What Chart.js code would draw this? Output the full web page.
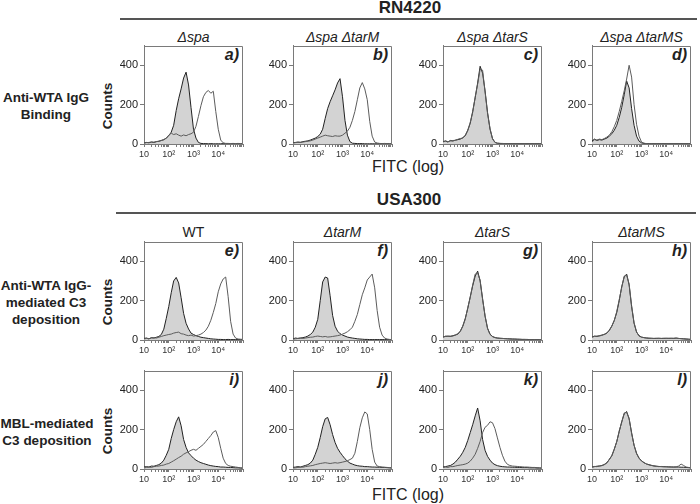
<!DOCTYPE html>
<html><head><meta charset="utf-8">
<script src="https://cdn.jsdelivr.net/npm/chart.js@4/dist/chart.umd.min.js"></script>
<style>
html,body{margin:0;padding:0;}
body{width:700px;height:504px;background:#fff;position:relative;overflow:hidden;font-family:"Liberation Sans",Arial,sans-serif;color:#222;}
.t{position:absolute;white-space:nowrap;transform:translate(-50%,-50%);text-align:center;}
.hd{font-weight:bold;font-size:17px;}
.ct{font-style:italic;font-size:14px;}
.rl{font-weight:bold;font-size:13.5px;line-height:17px;}
.ax{font-size:16px;}
.cn{font-weight:bold;font-size:13.5px;transform:translate(-50%,-50%) rotate(-90deg);}
.lt{position:absolute;font-weight:bold;font-style:italic;font-size:16px;transform:translate(-100%,-50%);}
.hr{position:absolute;height:2px;background:#555;}
canvas{position:absolute;}
</style></head><body>
<div class="t hd" style="left:410px;top:8px">RN4220</div>
<div class="hr" style="left:120px;top:18px;width:577px"></div>
<div class="t hd" style="left:409px;top:200px">USA300</div>
<div class="hr" style="left:116px;top:212px;width:580px"></div>
<div class="t ax" style="left:408px;top:167px">FITC (log)</div>
<div class="t ax" style="left:408px;top:495px">FITC (log)</div>
<div class="t rl" style="left:46px;top:106px">Anti-WTA IgG<br>Binding</div>
<div class="t rl" style="left:46px;top:302px">Anti-WTA IgG-<br>mediated C3<br>deposition</div>
<div class="t rl" style="left:47px;top:432px">MBL-mediated<br>C3 deposition</div>
<div id="texts"></div>
<script>
// ---- data: FITC channel values (log axis) ----
const fitcChannels = [10,12.6,15.8,20,25.1,31.6,39.8,50.1,63.1,79.4,
  100,126,158,200,251,316,398,501,631,794,
  1000,1260,1580,2000,2510,3160,3980,5010,6310,7940,
  10000,12600,15800,20000,25100,31600,39800,50100,63100,79400,100000];
const xTickValues = [10,20,30,40,50,60,70,80,90,100,200,300,400,500,600,700,800,900,
  1000,2000,3000,4000,5000,6000,7000,8000,9000,10000,20000,30000,40000,50000,60000,70000,80000,90000,100000];
const xTickLabels = {10:'10',100:'10²',1000:'10³',10000:'10⁴'};
const yTickValues = [0,200,400];

const rowTitles1 = ['Δspa','Δspa ΔtarM','Δspa ΔtarS','Δspa ΔtarMS'];
const rowTitles2 = ['WT','ΔtarM','ΔtarS','ΔtarMS'];
const panelLetters = ['a)','b)','c)','d)','e)','f)','g)','h)','i)','j)','k)','l)'];

// counts, shaded (control) and open histograms
const aShaded = [5,8,6,10,8,12,14,18,22,30, 42,60,95,170,230,280,335,365,300,185, 75,30,8,3,2,2,1,2,1,1, 1,1,2,1,1,1,1,1,1,1,1];
const aOpen   = [5,7,8,10,9,12,14,18,22,30, 45,55,48,52,45,40,46,42,48,52, 60,90,140,195,240,262,272,258,268,165, 75,20,6,3,3,2,3,2,3,2,2];
const bShaded = [6,8,10,8,12,14,16,20,25,30, 38,50,75,130,180,215,245,275,310,332, 240,120,45,12,4,3,2,2,2,1, 1,1,1,1,1,1,1,1,1,1,1];
const bOpen   = [5,7,8,9,10,12,14,16,20,25, 30,35,40,45,42,40,38,42,40,40, 45,55,65,85,120,165,225,285,312,280, 225,115,40,10,5,3,2,3,2,2,2];
const cShaded = [12,15,10,18,15,20,22,25,32,42, 70,105,165,235,310,395,360,270,160,75, 28,8,4,3,2,2,2,2,2,2, 2,2,2,2,2,2,2,2,2,2,2];
const cOpen   = [10,16,12,15,18,18,24,28,30,45, 68,110,160,240,305,380,375,265,155,80, 25,9,4,3,3,2,2,2,2,2, 2,2,2,2,2,2,2,2,2,2,2];
const dShaded = [15,25,18,22,20,25,30,40,52,70, 95,135,185,250,320,285,180,95,40,15, 6,3,2,2,2,2,2,2,2,2, 2,2,2,2,2,2,2,2,2,2,2];
const dOpen   = [10,22,20,25,22,28,35,45,62,88, 120,165,215,270,330,400,340,200,100,40, 10,4,2,2,2,2,2,2,2,2, 2,2,2,2,2,2,2,2,2,2,2];
const eShaded = [8,10,6,12,10,14,18,28,55,110, 170,240,300,318,290,215,135,85,56,35, 28,22,18,14,12,10,8,6,5,4, 3,3,2,2,3,2,2,2,2,2,2];
const eOpen   = [5,8,6,10,12,10,14,18,22,25, 28,30,35,38,40,32,30,25,22,25, 20,22,25,30,38,50,70,100,140,185, 245,285,310,320,220,95,30,10,5,4,3];
const fShaded = [6,10,8,10,12,15,20,28,40,65, 105,200,295,320,315,225,125,70,45,32, 25,20,15,12,10,8,6,5,4,3, 3,2,2,2,2,2,2,2,2,2,2];
const fOpen   = [4,6,8,10,8,10,12,14,15,18, 20,18,16,18,15,16,18,20,22,25, 30,35,42,52,65,95,130,180,230,265, 305,320,335,265,150,65,25,10,5,3,2];
const gShaded = [15,18,20,18,22,25,30,45,70,110, 160,220,275,325,350,300,210,120,60,30, 18,12,10,9,8,7,6,6,5,5, 4,4,3,3,3,2,2,2,2,2,2];
const gOpen   = [14,20,18,20,20,26,32,44,72,105, 165,215,280,335,340,305,205,125,58,28, 17,13,10,8,8,7,7,5,5,4, 4,3,3,3,2,2,2,2,2,2,2];
const hShaded = [15,20,18,22,25,28,35,50,70,100, 140,200,270,320,335,280,170,85,40,22, 15,12,10,9,9,8,8,9,8,8, 9,8,9,8,10,8,7,6,5,4,3];
const hOpen   = [14,18,20,20,24,30,36,48,72,98, 145,205,265,325,330,285,175,88,42,20, 14,12,11,9,8,8,9,8,8,9, 8,9,8,9,9,8,7,6,5,4,3];
const iShaded = [10,12,10,15,14,18,22,30,45,70, 100,155,200,240,265,220,150,110,82,68, 55,45,38,32,28,24,20,17,15,13, 12,10,10,9,8,8,7,6,6,5,4];
const iOpen   = [5,8,10,8,12,14,15,18,20,25, 28,35,42,50,58,65,75,82,88,95, 100,95,105,115,125,140,155,170,188,195, 160,105,55,28,18,14,12,10,8,6,5];
const jShaded = [8,10,12,10,14,18,22,30,45,75, 110,160,215,255,262,225,175,135,105,85, 68,52,40,30,25,20,17,15,14,12, 12,11,10,10,9,9,8,8,7,6,5];
const jOpen   = [5,6,8,10,9,12,14,16,18,22, 25,28,30,32,30,28,30,32,30,32, 35,38,42,48,55,80,140,210,260,290, 280,200,100,35,15,12,10,9,8,7,6];
const kShaded = [10,12,15,18,25,35,50,65,85,110, 145,185,225,270,310,245,150,95,64,45, 30,22,17,14,12,11,10,10,9,9, 8,8,7,7,7,6,6,6,5,5,4];
const kOpen   = [8,10,8,12,12,15,18,20,22,25, 30,40,55,75,105,140,185,212,222,240, 235,205,158,110,70,40,24,18,15,14, 13,12,11,10,10,9,8,8,7,6,5];
const lShaded = [10,12,14,15,18,22,32,48,68,100, 140,190,240,280,292,255,185,120,80,55, 42,32,26,22,18,16,14,13,12,12, 11,11,10,10,10,10,9,9,8,7,6];
const lOpen   = [9,13,12,16,17,24,30,50,66,102, 138,195,235,285,288,258,180,122,78,56, 40,33,25,21,19,15,14,12,13,11, 12,10,11,10,11,15,25,18,10,8,6];

const panels = [
  [aShaded,aOpen],[bShaded,bOpen],[cShaded,cOpen],[dShaded,dOpen],
  [eShaded,eOpen],[fShaded,fOpen],[gShaded,gOpen],[hShaded,hOpen],
  [iShaded,iOpen],[jShaded,jOpen],[kShaded,kOpen],[lShaded,lOpen]
];

// ---- layout ----
const colX = [144, 293, 443, 592];
const rowY = [45, 241, 370];
const PW = 99, PH = 99;
const PADL = 36, PADT = 8, PADR = 4, PADB = 22;

Chart.defaults.font.family = '"Liberation Sans", Arial, sans-serif';
Chart.defaults.color = '#222';

const framePlugin = {
  id: 'frame',
  afterDatasetsDraw(chart) {
    const {ctx, chartArea: a} = chart;
    ctx.save();
    ctx.strokeStyle = '#7a7a7a';
    ctx.lineWidth = 1;
    ctx.beginPath();
    ctx.moveTo(Math.round(a.left) + 0.5, Math.round(a.top) + 0.5);
    ctx.lineTo(Math.round(a.right) - 0.5, Math.round(a.top) + 0.5);
    ctx.lineTo(Math.round(a.right) - 0.5, Math.round(a.bottom));
    ctx.stroke();
    ctx.restore();
  }
};

const texts = document.getElementById('texts');
function addText(cls, x, y, s) {
  const d = document.createElement('div');
  d.className = cls;
  d.style.left = x + 'px';
  d.style.top = y + 'px';
  d.textContent = s;
  texts.appendChild(d);
}

rowTitles1.forEach((s, c) => addText('t ct', colX[c] + PW / 2, 37, s));
rowTitles2.forEach((s, c) => addText(c === 0 ? 't ct wt' : 't ct', colX[c] + PW / 2, 232, s));
rowY.forEach((y, r) => addText('t cn', 107, y + PH / 2 + 11, 'Counts'));

panels.forEach(([shaded, open], k) => {
  const r = Math.floor(k / 4), c = k % 4;
  const cv = document.createElement('canvas');
  cv.width = PADL + PW + PADR;
  cv.height = PADT + PH + PADB;
  cv.style.left = (colX[c] - PADL) + 'px';
  cv.style.top = (rowY[r] - PADT) + 'px';
  document.body.appendChild(cv);
  addText('lt', colX[c] + PW - 4, rowY[r] + 10, panelLetters[k]);

  new Chart(cv, {
    type: 'line',
    data: {
      datasets: [
        { data: fitcChannels.map((x, i) => ({x, y: open[i]})), borderColor: '#5c5c5c', borderWidth: 1,
          fill: false, pointRadius: 0, tension: 0, order: 0 },
        { data: fitcChannels.map((x, i) => ({x, y: shaded[i]})), borderColor: '#222', borderWidth: 1,
          backgroundColor: '#d3d3d3', fill: 'origin', pointRadius: 0, tension: 0, order: 1 }
      ]
    },
    options: {
      responsive: false, animation: false, devicePixelRatio: 1,
      layout: { padding: { left: 0, top: PADT, right: PADR, bottom: 0 } },
      plugins: { legend: { display: false }, tooltip: { enabled: false } },
      scales: {
        x: {
          type: 'logarithmic', min: 10, max: 100000,
          afterBuildTicks: s => { s.ticks = xTickValues.map(v => ({value: v})); },
          afterFit: s => { s.height = PADB; },
          grid: { drawOnChartArea: false, drawTicks: true, tickLength: 3, color: '#7a7a7a' },
          border: { color: '#7a7a7a', width: 1 },
          ticks: { autoSkip: false, maxRotation: 0, minRotation: 0, padding: 2, color: '#333',
                   font: { size: 9 }, callback: v => xTickLabels[v] ?? '' }
        },
        y: {
          min: 0, max: 500,
          afterBuildTicks: s => { s.ticks = yTickValues.map(v => ({value: v})); },
          afterFit: s => { s.width = PADL; },
          grid: { drawOnChartArea: false, tickLength: 4, color: '#7a7a7a' },
          border: { color: '#7a7a7a', width: 1 },
          ticks: { padding: 2, color: '#222', font: { size: 11 } }
        }
      }
    },
    plugins: [framePlugin]
  });
});
</script>
<style>.wt{font-style:normal;}</style>
</body></html>
